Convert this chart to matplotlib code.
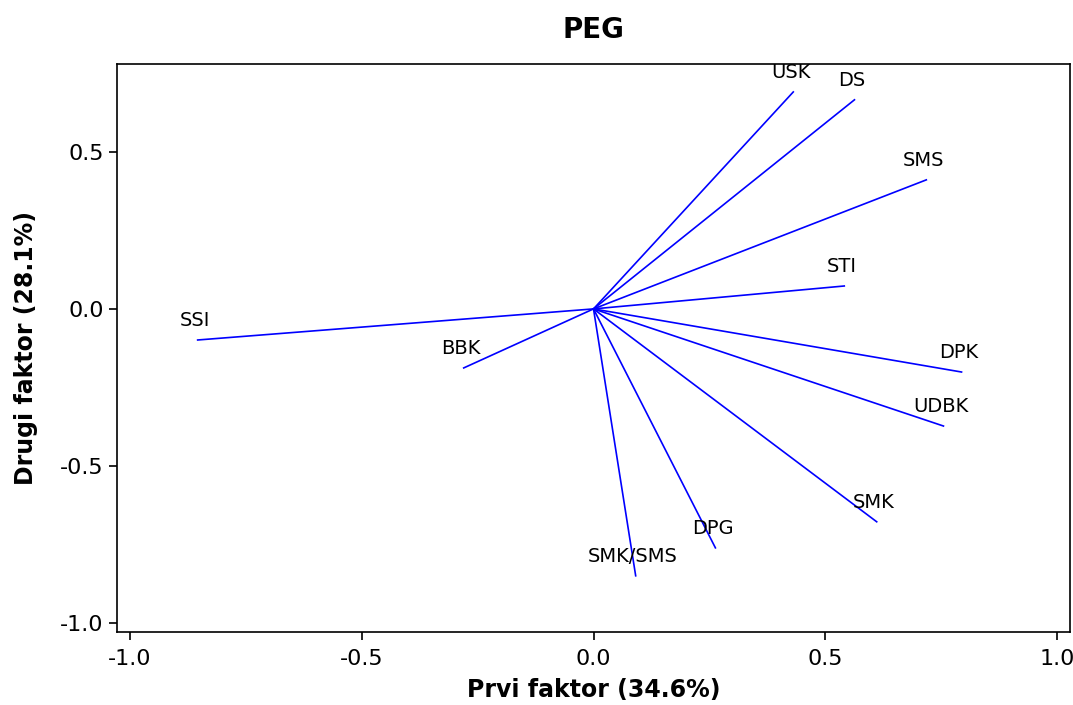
import matplotlib
matplotlib.use('Agg')
import matplotlib.pyplot as plt

# loadings
names = ['USK', 'DS', 'SMS', 'STI', 'SSI', 'BBK', 'DPK', 'UDBK', 'SMK', 'DPG', 'SMK/SMS']
f1 = [0.431, 0.563, 0.718, 0.541, -0.854, -0.280, 0.794, 0.755, 0.611, 0.263, 0.091]
f2 = [0.691, 0.666, 0.411, 0.073, -0.099, -0.188, -0.201, -0.373, -0.678, -0.761, -0.850]

xticks = [-1.0, -0.5, 0.0, 0.5, 1.0]
yticks = [-1.0, -0.5, 0.0, 0.5]

plt.rcParams['font.family'] = ['DejaVu Sans']

fig = plt.figure(figsize=(10.73, 7.05), dpi=100)
ax = fig.add_axes([117 / 1073, 1 - 632 / 705, (1070 - 117) / 1073, (632 - 64) / 705])

for n, x, y in zip(names, f1, f2):
  ax.plot([0, x], [0, y], color='#0000ff', lw=1.2)
  ax.annotate(n, (x, y), xytext=(-2, 14), textcoords='offset points',
              ha='center', va='center', fontsize=14)

ax.set_xlim(-1.028, 1.028)
ax.set_ylim(-1.029, 0.780)
ax.set_xticks(xticks)
ax.set_yticks(yticks)
ax.set_xticklabels(['%.1f' % v for v in xticks])
ax.set_yticklabels(['%.1f' % v for v in yticks])
ax.tick_params(direction='out', length=6, width=1.2, labelsize=16)
ax.tick_params(axis='x', pad=6)
for s in ax.spines.values():
  s.set_linewidth(1.2)

ax.set_xlabel('Prvi faktor (34.6%)', fontsize=17, fontweight='bold', labelpad=7)
ax.set_ylabel('Drugi faktor (28.1%)', fontsize=17, fontweight='bold', labelpad=16)
ax.set_title('PEG', fontsize=20, fontweight='bold', pad=19)

fig.savefig('out.png', dpi=100)
